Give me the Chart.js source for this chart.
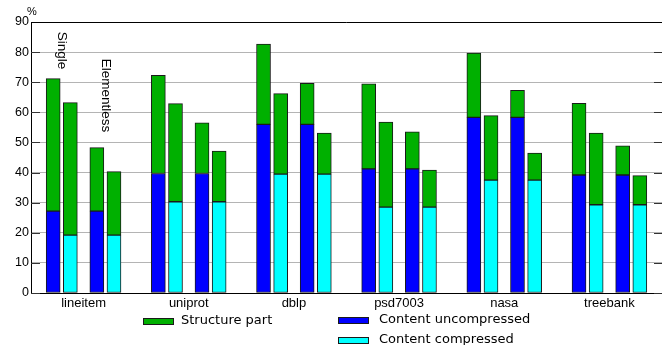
<!DOCTYPE html>
<html>
<head>
<meta charset="utf-8">
<script src="https://cdn.jsdelivr.net/npm/chart.js@4/dist/chart.umd.min.js"></script>
<style>
  html, body { margin: 0; padding: 0; background: #fff; }
  #wrap { position: relative; width: 662px; height: 345px; }
</style>
</head>
<body>
<div id="wrap"><canvas id="c" width="662" height="345"></canvas></div>
<script>
// Documents and their storage breakdown (% of original size)
const categories = ['lineitem', 'uniprot', 'dblp', 'psd7003', 'nasa', 'treebank'];
const contentUncompressed = [27.2, 39.7, 56.0, 41.2, 58.3, 39.2];
const contentCompressed   = [19.2, 30.3, 39.5, 28.5, 37.5, 29.3];
const structureSingle      = [44.0, 32.6, 26.7, 28.3, 21.4, 23.8];
const structureElementless = [21.1, 16.8, 13.6, 12.3,  9.0,  9.7];
const yTickValues = [0, 10, 20, 30, 40, 50, 60, 70, 80, 90];

// Four bars per document: single/uncompressed, single/compressed,
// elementless/uncompressed, elementless/compressed
const slot = [-0.289, -0.126, 0.126, 0.289];

const COL_STRUCT = '#00b000';
const COL_UNC = '#0000ff';
const COL_CMP = '#00ffff';
const EDGE = '#1a1a1a';

const uncData = [], cmpData = [], structData = [];
categories.forEach((c, i) => {
  uncData.push({ x: i + slot[0], y: contentUncompressed[i] });
  uncData.push({ x: i + slot[2], y: contentUncompressed[i] });
  cmpData.push({ x: i + slot[1], y: contentCompressed[i] });
  cmpData.push({ x: i + slot[3], y: contentCompressed[i] });
  structData.push({ x: i + slot[0], y: structureSingle[i] });
  structData.push({ x: i + slot[1], y: structureSingle[i] });
  structData.push({ x: i + slot[2], y: structureElementless[i] });
  structData.push({ x: i + slot[3], y: structureElementless[i] });
});

const barStyle = {
  borderColor: EDGE,
  borderWidth: 1,
  borderSkipped: false,
  barThickness: 14,
  grouped: false
};

const decorations = {
  id: 'decorations',
  beforeDatasetsDraw(chart) {
    const { ctx, chartArea: a, scales: { y } } = chart;
    ctx.save();
    ctx.strokeStyle = '#333';
    ctx.lineWidth = 1;
    yTickValues.forEach(v => {
      const py = Math.round(y.getPixelForValue(v)) + 0.5;
      ctx.beginPath();
      ctx.moveTo(a.left, py); ctx.lineTo(a.left + 9, py);
      ctx.moveTo(a.right - 8, py); ctx.lineTo(a.right, py);
      ctx.stroke();
    });
    // top frame line
    const top = Math.round(y.getPixelForValue(90)) + 0.5;
    ctx.strokeStyle = '#000';
    ctx.beginPath();
    ctx.moveTo(a.left, top); ctx.lineTo(a.right, top);
    ctx.stroke();
    ctx.restore();
  },
  afterDraw(chart) {
    const { ctx, scales: { x, y } } = chart;
    ctx.save();
    ctx.fillStyle = '#000';
    // unit label
    ctx.font = '11px "Liberation Sans", Arial, sans-serif';
    ctx.textAlign = 'left';
    ctx.textBaseline = 'middle';
    ctx.fillText('%', 27, 12);

    // vertical captions over the first group
    ctx.font = '13.5px "Liberation Sans", Arial, sans-serif';
    const vLabel = (text, xv, yv) => {
      ctx.save();
      ctx.translate(x.getPixelForValue(xv), y.getPixelForValue(yv));
      ctx.rotate(Math.PI / 2);
      ctx.textAlign = 'left';
      ctx.textBaseline = 'middle';
      ctx.fillText(text, 0, 0);
      ctx.restore();
    };
    vLabel('Single', (slot[0] + slot[1]) / 2, 86.8);
    vLabel('Elementless', (slot[2] + slot[3]) / 2, 77.8);

    // legend (two columns)
    const items = [
      { ds: chart.data.datasets[2], sx: 143, sy: 321, gap: 38 },
      { ds: chart.data.datasets[0], sx: 338, sy: 320, gap: 41 },
      { ds: chart.data.datasets[1], sx: 338, sy: 340, gap: 41 }
    ];
    ctx.font = '13px "DejaVu Sans", sans-serif';
    ctx.textBaseline = 'middle';
    items.forEach(it => {
      ctx.fillStyle = it.ds.backgroundColor;
      ctx.fillRect(it.sx, it.sy - 3, 31, 7);
      ctx.strokeStyle = EDGE;
      ctx.lineWidth = 1;
      ctx.strokeRect(it.sx + 0.5, it.sy - 3 + 0.5, 30, 6);
      ctx.fillStyle = '#000';
      ctx.fillText(it.ds.label, it.sx + it.gap, it.sy);
    });
    ctx.restore();
  }
};

new Chart(document.getElementById('c'), {
  type: 'bar',
  data: {
    datasets: [
      Object.assign({ label: 'Content uncompressed', data: uncData, backgroundColor: COL_UNC }, barStyle),
      Object.assign({ label: 'Content compressed', data: cmpData, backgroundColor: COL_CMP }, barStyle),
      Object.assign({ label: 'Structure part', data: structData, backgroundColor: COL_STRUCT }, barStyle)
    ]
  },
  options: {
    responsive: false,
    animation: false,
    devicePixelRatio: 1,
    layout: { padding: { top: 22, right: 0, left: 0, bottom: 0 } },
    plugins: { legend: { display: false }, tooltip: { enabled: false } },
    scales: {
      x: {
        type: 'linear',
        offset: false,
        min: -0.5,
        max: 5.5,
        grid: { display: false, drawTicks: false },
        border: { display: true, color: '#000', width: 1 },
        afterBuildTicks: s => { s.ticks = categories.map((c, i) => ({ value: i })); },
        afterFit: s => { s.height = 52; },
        ticks: {
          autoSkip: false,
          maxRotation: 0,
          padding: 3,
          color: '#000',
          font: { family: '"Liberation Sans", Arial, sans-serif', size: 13 },
          callback: v => categories[Math.round(v)]
        }
      },
      y: {
        stacked: true,
        min: 0,
        max: 90,
        afterBuildTicks: s => { s.ticks = yTickValues.map(v => ({ value: v })); },
        afterFit: s => { s.width = 31; },
        grid: { color: '#b4b4b4', lineWidth: 1, drawTicks: false },
        border: { display: true, color: '#000', width: 1 },
        ticks: {
          padding: 2,
          color: '#000',
          font: { family: '"Liberation Sans", Arial, sans-serif', size: 12.5 }
        }
      }
    }
  },
  plugins: [decorations]
});
</script>
</body>
</html>
